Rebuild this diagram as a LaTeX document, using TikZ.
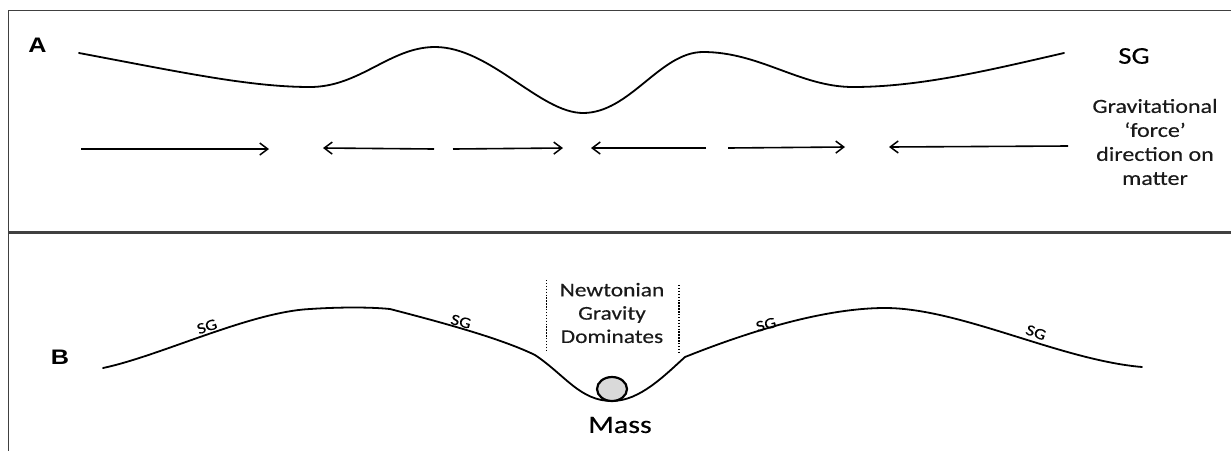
\documentclass[tikz,border=0pt]{standalone}
\usepackage{fontspec}
\setmainfont{Carlito}[FakeStretch=1.2, FakeBold=0.35]
\newfontfamily\labfont{Liberation Sans}[FakeStretch=1.2]
\usetikzlibrary{arrows.meta,shapes.geometric}
\definecolor{framecol}{HTML}{404040}
\definecolor{ballgray}{HTML}{D9D9D9}
\definecolor{txtcol}{HTML}{1A1A1A}
\tikzset{
  frameline/.style={draw=framecol, line width=1.3pt},
  wave/.style={draw=black, line width=1.8pt, line join=round, line cap=round},
  force/.style={draw=black, line width=1.6pt, -{Straight Barb[length=8pt,width=12pt,line width=1.5pt]}},
  panellabel/.style={font=\labfont\bfseries\fontsize{21}{25}\selectfont, inner sep=0pt},
  bigtxt/.style={font=\fontsize{20}{24}\selectfont, align=center, inner sep=0pt, text=txtcol},
  sglab/.style={font=\fontsize{15.5}{17}\selectfont, inner sep=0pt},
  dotline/.style={draw=black, line width=1.4pt, dash pattern=on 1.4pt off 1.5pt}
}
\begin{document}
\begin{tikzpicture}[x=1pt,y=-1pt]
\useasboundingbox (0,0) rectangle (1231,451);
% frames
\draw[frameline] (1231,10.7) -- (8.5,10.7) -- (8.5,451);
\draw[frameline, line width=2.2pt] (8.5,232.5) -- (1231,232.5);

% panel A
\node[panellabel] (labA) at (37.5,45) {A};
\draw[wave] (79,53) .. controls (180,72) and (250,87) .. (310,87)
  .. controls (360,87) and (390,47) .. (435,47)
  .. controls (490,47) and (540,113) .. (583,113)
  .. controls (630,113) and (660,52) .. (703,52)
  .. controls (760,52) and (800,87) .. (853,87)
  .. controls (920,87) and (990,70) .. (1064,53);
\node[font=\fontsize{24}{28}\selectfont, inner sep=0pt] (sgA) at (1134,56) {SG};
\node[bigtxt] (gfd) at (1155,142) {Gravitational\\‘force’\\direction on\\matter};

\coordinate (a1s) at (81,149);  \coordinate (a1e) at (269,149);
\coordinate (a2s) at (434,149); \coordinate (a2e) at (323,148);
\coordinate (a3s) at (453,149); \coordinate (a3e) at (563,148);
\coordinate (a4s) at (706,148); \coordinate (a4e) at (591,148);
\coordinate (a5s) at (728,148); \coordinate (a5e) at (845,147);
\coordinate (a6s) at (1068,146);\coordinate (a6e) at (889,147);
\draw[force] (a1s) -- (a1e);
\draw[force] (a2s) -- (a2e);
\draw[force] (a3s) -- (a3e);
\draw[force] (a4s) -- (a4e);
\draw[force] (a5s) -- (a5e);
\draw[force] (a6s) -- (a6e);

% panel B
\node[panellabel] (labB) at (60,357.5) {B};
\draw[wave] (103,368) .. controls (160,356) and (250,312) .. (310,309)
  .. controls (340,307) and (370,307) .. (390,309)
  .. controls (440,322) and (500,338) .. (535,355)
  .. controls (565,375) and (580,401) .. (612,401)
  .. controls (640,401) and (665,375) .. (685,357)
  .. controls (740,335) and (820,308) .. (885,308)
  .. controls (960,308) and (1060,360) .. (1142,367);
\node[sglab, rotate=18] (sg1) at (207,326.5) {SG};
\node[sglab, rotate=-15] (sg2) at (461,321.5) {SG};
\node[sglab, rotate=15] (sg3) at (766,324.5) {SG};
\node[sglab, rotate=-20] (sg4) at (1036,332.5) {SG};

\coordinate (d1t) at (546.7,280); \coordinate (d1b) at (546.7,350);
\coordinate (d2t) at (679,285);   \coordinate (d2b) at (679,353);
\draw[dotline] (d1t) -- (d1b);
\draw[dotline] (d2t) -- (d2b);
\node[bigtxt, font=\fontsize{19.5}{23.3}\selectfont] (newt) at (612,313) {Newtonian\\Gravity\\Dominates};

\node[draw=black, line width=2.2pt, fill=ballgray, ellipse, minimum width=30pt, minimum height=24pt, inner sep=0pt] (ball) at (612,389) {};
\node[font=\fontsize{25}{30}\selectfont, inner sep=0pt] (mass) at (620,425) {Mass};
\end{tikzpicture}
\end{document}
